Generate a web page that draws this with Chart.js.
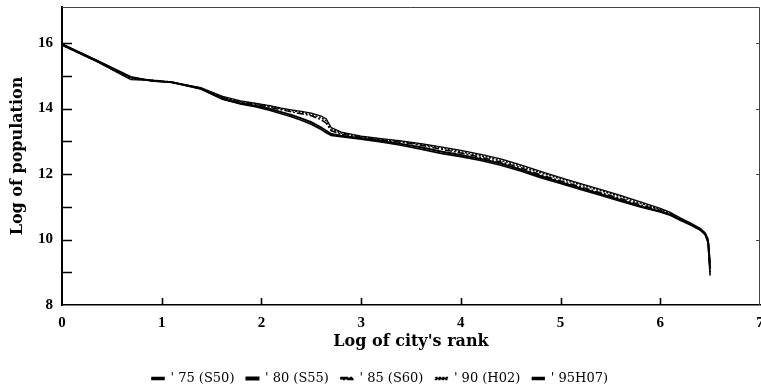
<!DOCTYPE html>
<html>
<head>
<meta charset="utf-8">
<script src="https://cdn.jsdelivr.net/npm/chart.js@4"></script>
<style>
  html, body { margin: 0; padding: 0; background: #fff; }
  #wrap { width: 761px; height: 389px; }
</style>
</head>
<body>
<div id="wrap"><canvas id="c" width="761" height="389"></canvas></div>
<script>
// Log of city's rank (shared x positions)
const logRank = [0, 0.35, 0.69, 0.9, 1.1, 1.39, 1.61, 1.79, 1.95, 2.08, 2.2, 2.3, 2.4, 2.5, 2.6, 2.65, 2.7, 2.8, 3.0, 3.2, 3.4, 3.6, 3.8, 4.0, 4.2, 4.4, 4.6, 4.8, 5.0, 5.2, 5.4, 5.6, 5.8, 6.0, 6.1, 6.2, 6.3, 6.4, 6.45, 6.48, 6.5];

// Log of population, one list per census year
const pop75 = [15.97, 15.47, 14.97, 14.84, 14.80, 14.60, 14.28, 14.14, 14.05, 13.95, 13.84, 13.75, 13.64, 13.52, 13.36, 13.26, 13.18, 13.14, 13.06, 12.98, 12.88, 12.76, 12.63, 12.53, 12.41, 12.27, 12.09, 11.89, 11.71, 11.53, 11.35, 11.17, 10.99, 10.84, 10.74, 10.59, 10.45, 10.29, 10.15, 9.90, 8.9];
const pop80 = [15.96, 15.46, 14.95, 14.85, 14.80, 14.61, 14.30, 14.16, 14.08, 13.99, 13.89, 13.80, 13.70, 13.58, 13.42, 13.32, 13.22, 13.17, 13.09, 13.01, 12.92, 12.82, 12.69, 12.58, 12.46, 12.32, 12.14, 11.94, 11.75, 11.57, 11.39, 11.21, 11.02, 10.86, 10.76, 10.61, 10.46, 10.30, 10.17, 9.92, 9.1];
const pop85 = [15.95, 15.45, 14.93, 14.86, 14.80, 14.62, 14.33, 14.19, 14.12, 14.04, 13.96, 13.90, 13.84, 13.78, 13.66, 13.55, 13.32, 13.22, 13.12, 13.04, 12.97, 12.88, 12.76, 12.64, 12.51, 12.37, 12.19, 11.98, 11.79, 11.61, 11.43, 11.25, 11.06, 10.89, 10.78, 10.62, 10.47, 10.31, 10.18, 9.95, 9.0];
const pop90 = [15.94, 15.44, 14.90, 14.87, 14.81, 14.63, 14.35, 14.21, 14.14, 14.07, 13.99, 13.94, 13.88, 13.82, 13.72, 13.62, 13.38, 13.25, 13.14, 13.06, 12.99, 12.91, 12.80, 12.68, 12.56, 12.42, 12.24, 12.04, 11.85, 11.67, 11.49, 11.31, 11.11, 10.92, 10.81, 10.64, 10.49, 10.33, 10.19, 9.98, 9.2];
const pop95 = [15.93, 15.43, 14.88, 14.86, 14.80, 14.64, 14.37, 14.23, 14.16, 14.09, 14.01, 13.96, 13.91, 13.86, 13.77, 13.68, 13.42, 13.28, 13.16, 13.08, 13.01, 12.93, 12.83, 12.72, 12.60, 12.46, 12.28, 12.08, 11.89, 11.71, 11.53, 11.35, 11.15, 10.95, 10.83, 10.66, 10.51, 10.34, 10.20, 10.02, 9.3];

const seriesLabels = ["' 75 (S50)", "' 80 (S55)", "' 85 (S60)", "' 90 (H02)", "' 95H07)"];
const xTickValues = [0, 1, 2, 3, 4, 5, 6, 7];
const yLabelValues = [8, 10, 12, 14, 16];

const serif = '"Liberation Serif", "DejaVu Serif", serif';
const wideSerif = '"DejaVu Serif", "Liberation Serif", serif';

const styles = [
  { borderWidth: 1.6, borderDash: [] },
  { borderWidth: 2, borderDash: [] },
  { borderWidth: 1.5, borderDash: [7, 2, 2, 2] },
  { borderWidth: 1.5, borderDash: [2, 1.5] },
  { borderWidth: 1.3, borderDash: [] }
];

const popSeries = [pop75, pop80, pop85, pop90, pop95];
const datasets = popSeries.map((vals, i) => ({
  label: seriesLabels[i],
  data: logRank.map((r, k) => ({ x: r, y: vals[k] })),
  borderColor: '#000',
  backgroundColor: '#000',
  borderWidth: styles[i].borderWidth,
  borderDash: styles[i].borderDash,
  pointRadius: 0,
  tension: 0,
  fill: false
}));

// inward tick marks and the thin top/right frame
const axisMarks = {
  id: 'axisMarks',
  afterDraw(chart) {
    const { ctx, chartArea: a, scales: { x, y } } = chart;
    ctx.save();
    ctx.strokeStyle = '#000';
    ctx.lineWidth = 1.6;
    ctx.beginPath();
    y.ticks.forEach(t => {
      const py = Math.round(y.getPixelForValue(t.value)) + 0.5;
      if (t.value > y.min) {
        ctx.moveTo(a.left, py);
        ctx.lineTo(a.left + 10, py);
      }
    });
    x.ticks.forEach(t => {
      if (t.value > x.min && t.value < x.max) {
        const px = Math.round(x.getPixelForValue(t.value)) + 0.5;
        ctx.moveTo(px, a.bottom);
        ctx.lineTo(px, a.bottom - 7);
      }
    });
    ctx.stroke();
    ctx.lineWidth = 1;
    ctx.strokeStyle = '#444';
    ctx.beginPath();
    y.ticks.forEach(t => {
      if (yLabelValues.includes(t.value) && t.value > y.min) {
        const py = Math.round(y.getPixelForValue(t.value)) + 0.5;
        ctx.moveTo(a.right, py);
        ctx.lineTo(a.right - 4, py);
      }
    });
    ctx.moveTo(a.left, a.top + 0.5);
    ctx.lineTo(a.right - 0.5, a.top + 0.5);
    ctx.lineTo(a.right - 0.5, a.bottom);
    ctx.stroke();
    ctx.restore();
  }
};

new Chart(document.getElementById('c'), {
  type: 'line',
  data: { datasets },
  plugins: [axisMarks],
  options: {
    responsive: false,
    animation: false,
    layout: { padding: { top: 7, right: 1, bottom: -6, left: 0 } },
    scales: {
      x: {
        type: 'linear',
        min: 0,
        max: 7,
        afterBuildTicks: s => { s.ticks = xTickValues.map(v => ({ value: v })); },
        afterFit: s => { s.height = 55; s.paddingLeft = 0; s.paddingRight = 0; },
        grid: { display: false, drawTicks: false },
        border: { display: true, color: '#000', width: 1.6 },
        ticks: {
          padding: 9,
          color: '#000',
          font: { family: serif, size: 15, weight: 'bold' },
          maxRotation: 0
        },
        title: {
          display: true,
          text: "Log of city's rank",
          color: '#000',
          font: { family: wideSerif, size: 16, weight: 'bold' },
          padding: { top: 0, bottom: 9 }
        }
      },
      y: {
        type: 'linear',
        min: 8,
        max: 17.1,
        afterBuildTicks: s => {
          s.ticks = s.ticks.filter(t => Number.isInteger(t.value) && t.value <= 16);
        },
        afterFit: s => { s.width = 62; s.paddingTop = 0; s.paddingBottom = 0; },
        grid: { display: false, drawTicks: false },
        border: { display: true, color: '#000', width: 2 },
        ticks: {
          stepSize: 1,
          padding: 9,
          color: '#000',
          font: { family: serif, size: 15, weight: 'bold' },
          callback: v => (yLabelValues.includes(v) ? String(v) : '')
        },
        title: {
          display: true,
          text: 'Log of population',
          color: '#000',
          font: { family: wideSerif, size: 16, weight: 'bold' },
          padding: { top: 8, bottom: 0 }
        }
      }
    },
    plugins: {
      legend: {
        position: 'bottom',
        labels: {
          boxWidth: 12,
          boxHeight: 2,
          padding: 12,
          color: '#000',
          font: { family: wideSerif, size: 13 }
        }
      },
      tooltip: { enabled: false }
    }
  }
});
</script>
</body>
</html>
